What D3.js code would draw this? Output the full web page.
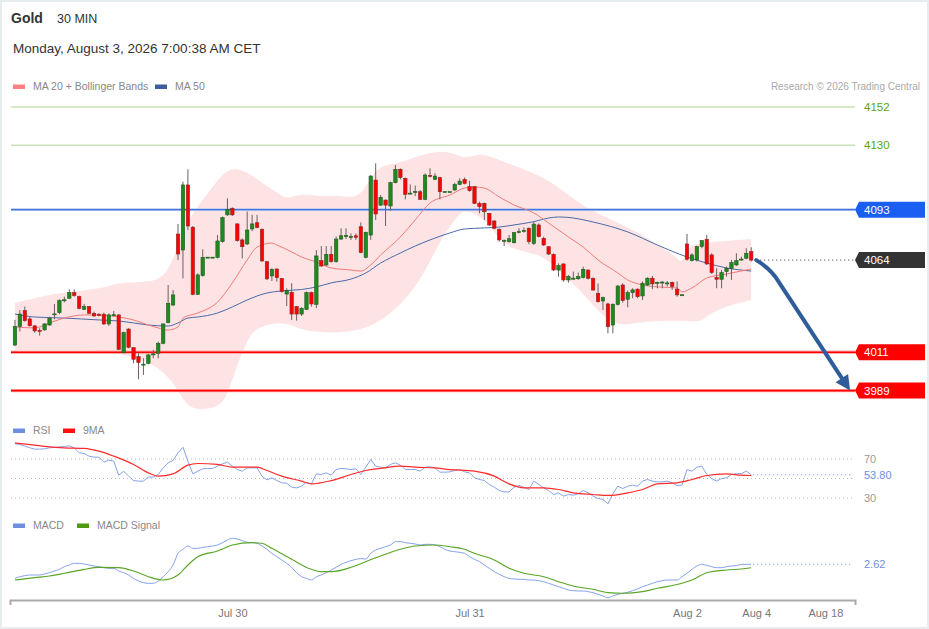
<!DOCTYPE html>
<html>
<head>
<meta charset="utf-8">
<script src="https://cdn.jsdelivr.net/npm/d3@7"></script>
<style>
  html, body { margin: 0; padding: 0; background: #fff; }
  svg { display: block; font-family: "Liberation Sans", Arial, sans-serif; }
</style>
</head>
<body>
<svg id="chart" width="929" height="629"></svg>
<script>
// 30 min candles, [open, high, low, close]
var ohlc = [
  [4015.2,4029.6,4014.6,4025.8],[4025.8,4035.3,4022.9,4033.0],[4035.0,4037.3,4028.6,4029.2],[4030.2,4031.5,4025.8,4026.3],
  [4026.2,4026.7,4022.3,4023.3],[4023.6,4024.8,4020.6,4023.2],[4023.9,4027.7,4023.5,4027.3],[4026.7,4031.5,4026.3,4030.6],
  [4032.9,4038.8,4030.0,4033.1],[4033.8,4041.5,4033.0,4040.7],[4041.0,4043.0,4039.7,4041.2],[4042.1,4047.2,4041.7,4045.3],
  [4045.3,4047.2,4043.0,4043.6],[4043.0,4043.6,4035.7,4036.3],[4035.7,4038.8,4035.3,4037.3],[4037.3,4037.6,4033.0,4033.4],
  [4033.4,4034.4,4031.5,4031.9],[4032.9,4033.4,4031.7,4032.1],[4032.9,4033.8,4026.7,4027.3],[4027.3,4033.4,4026.2,4032.5],
  [4032.4,4034.8,4031.5,4032.6],[4032.5,4032.9,4012.4,4012.7],[4010.8,4022.9,4010.4,4022.3],[4024.4,4024.8,4013.3,4013.9],
  [4013.7,4013.9,4004.7,4007.0],[4008.5,4010.4,3995.5,4005.1],[4004.0,4007.6,3998.0,4004.2],[4004.7,4010.1,4004.1,4009.5],
  [4009.8,4012.4,4007.6,4010.1],[4010.4,4017.1,4007.6,4016.2],[4016.2,4027.6,4015.6,4027.3],[4028.1,4049.7,4027.7,4039.2],
  [4038.2,4046.8,4037.6,4044.0],[4079.0,4084.8,4064.1,4067.5],[4069.8,4109.1,4053.5,4107.2],[4107.2,4116.2,4081.3,4083.6],
  [4082.9,4083.6,4043.8,4044.3],[4044.3,4056.4,4044.0,4055.5],[4055.1,4070.2,4054.5,4065.6],[4065.5,4065.7,4065.5,4065.7],
  [4065.5,4065.7,4065.5,4065.7],[4065.6,4078.4,4065.0,4075.0],[4074.6,4089.0,4074.0,4088.4],[4090.0,4099.5,4089.4,4093.2],
  [4093.8,4094.3,4089.4,4090.0],[4084.8,4085.2,4074.6,4075.2],[4075.6,4076.5,4065.0,4071.7],[4073.3,4091.9,4072.7,4081.3],
  [4081.9,4090.0,4080.7,4084.8],[4085.5,4090.0,4082.3,4082.7],[4081.7,4082.3,4063.1,4063.5],[4063.1,4063.3,4052.6,4053.2],
  [4054.9,4059.3,4052.0,4058.7],[4058.9,4059.3,4051.6,4053.9],[4053.5,4053.7,4045.3,4045.9],[4044.5,4047.8,4037.6,4046.5],
  [4045.5,4050.7,4029.6,4033.0],[4037.3,4037.6,4029.2,4033.0],[4033.0,4036.9,4031.9,4036.3],[4035.7,4045.9,4035.3,4045.3],
  [4045.3,4045.9,4037.3,4038.8],[4038.6,4069.8,4036.5,4066.4],[4063.7,4072.1,4060.2,4060.6],[4061.2,4072.1,4060.6,4067.3],
  [4067.3,4072.1,4062.5,4063.1],[4063.1,4077.5,4062.5,4076.1],[4076.1,4082.3,4075.6,4078.0],[4077.9,4082.3,4076.1,4078.1],
  [4077.4,4079.4,4075.6,4077.6],[4078.0,4079.4,4075.6,4077.1],[4083.2,4085.7,4067.9,4068.3],[4065.6,4080.3,4065.0,4080.0],
  [4078.4,4112.9,4075.6,4112.3],[4110.0,4119.6,4087.0,4090.5],[4095.6,4101.4,4095.1,4100.1],[4098.5,4098.9,4083.6,4095.6],
  [4095.1,4109.1,4092.4,4108.5],[4108.5,4118.7,4108.1,4116.2],[4116.2,4116.7,4110.4,4111.5],[4111.0,4111.4,4098.9,4101.8],
  [4102.3,4107.5,4101.8,4102.5],[4103.2,4106.8,4100.8,4103.4],[4103.3,4104.3,4098.5,4098.9],[4098.9,4113.9,4098.5,4112.9],
  [4112.7,4116.7,4111.5,4112.3],[4110.4,4113.9,4110.0,4112.3],[4111.4,4111.9,4098.9,4103.3],[4103.2,4103.4,4103.2,4103.4],
  [4103.2,4103.4,4103.2,4103.4],[4104.3,4108.5,4103.9,4107.5],[4107.5,4111.0,4107.1,4109.4],[4110.4,4111.5,4107.5,4108.1],
  [4106.2,4109.6,4103.3,4103.9],[4106.2,4106.6,4096.2,4096.6],[4096.6,4097.6,4090.9,4094.7],[4096.6,4097.0,4087.0,4091.8],
  [4090.9,4091.2,4083.6,4084.2],[4086.5,4087.0,4081.7,4082.3],[4081.7,4082.3,4074.6,4075.6],[4075.1,4075.9,4072.1,4075.3],
  [4074.6,4078.4,4074.0,4076.3],[4074.0,4080.1,4073.6,4079.8],[4080.2,4082.3,4079.4,4080.4],[4080.8,4082.8,4079.8,4081.0],
  [4082.3,4082.8,4073.2,4074.6],[4073.6,4086.1,4072.7,4084.7],[4084.2,4085.1,4077.1,4077.5],[4076.5,4077.5,4072.1,4072.7],
  [4071.7,4072.1,4066.9,4067.5],[4067.3,4067.9,4057.7,4058.3],[4058.3,4062.1,4054.5,4060.8],[4061.8,4062.1,4051.6,4052.6],
  [4052.6,4055.4,4051.0,4054.5],[4053.4,4057.4,4052.9,4053.6],[4053.3,4056.8,4052.6,4054.5],[4054.1,4060.2,4053.5,4058.7],
  [4058.3,4058.7,4052.9,4053.5],[4053.5,4054.1,4046.4,4046.8],[4044.9,4050.6,4039.5,4040.1],[4040.5,4043.0,4035.3,4042.4],
  [4038.8,4039.5,4021.9,4025.7],[4026.7,4039.2,4021.9,4038.6],[4038.5,4049.7,4038.0,4049.1],[4049.7,4050.7,4039.6,4040.7],
  [4041.5,4046.5,4036.9,4045.3],[4045.3,4047.8,4042.1,4046.9],[4047.3,4047.8,4042.1,4043.0],[4043.4,4051.7,4041.1,4050.7],
  [4049.7,4054.1,4049.2,4053.6],[4053.6,4054.9,4047.3,4050.3],[4051.0,4051.7,4047.8,4051.2],[4051.2,4052.0,4047.8,4051.4],
  [4050.5,4052.0,4048.8,4050.9],[4051.1,4051.7,4046.9,4048.8],[4047.3,4051.7,4043.0,4044.0],[4044.0,4044.1,4044.0,4044.1],
  [4073.3,4079.1,4063.7,4064.5],[4063.7,4067.9,4063.2,4067.0],[4064.1,4072.2,4063.2,4071.8],[4071.8,4075.6,4070.8,4075.2],
  [4076.0,4078.5,4061.2,4061.8],[4067.0,4067.9,4056.1,4056.8],[4054.1,4059.3,4047.8,4053.0],[4053.0,4058.4,4047.8,4056.8],
  [4057.4,4060.3,4054.5,4059.3],[4059.3,4064.1,4052.6,4062.6],[4061.2,4067.9,4060.7,4063.7],[4064.4,4066.0,4063.7,4064.6],
  [4065.1,4070.8,4064.5,4067.9],[4068.9,4071.4,4063.2,4064.0]
];

// Bollinger bands and moving averages, read at candle indices
var upperIdx = [0,4,9,15,19,21,28,31,33,35,38,41,43,45,48,50,53,55,58,62,66,70,73,77,83,88,91,94,98,105,109,115,120,126,130,134,135,136,138,149];
var upperVal = [4039.4,4042.2,4045.1,4046.8,4048.6,4051.4,4050.9,4056.6,4072.7,4087.1,4098.6,4110.0,4115.8,4116.9,4112.9,4108.3,4103.1,4098.6,4102.6,4100.3,4101.4,4098.6,4118.7,4118.7,4125.6,4127.3,4121.5,4126.1,4121.5,4114.1,4108.3,4094.5,4088.2,4080.2,4072.7,4065.8,4061.2,4071.5,4073.8,4076.1];
var lowerIdx = [0,9,17,21,28,31,33,35,38,41,43,45,47,48,52,55,58,62,71,78,83,86,90,91,95,98,101,105,108,112,115,118,122,126,134,139,140,144,149];
var lowerVal = [4012.3,4012.3,4012.3,4010.6,4004.9,3996.8,3989.4,3979.0,3977.9,3979.6,3985.3,4004.9,4016.4,4023.8,4027.9,4027.9,4023.8,4022.1,4022.7,4037.1,4056.6,4075.6,4091.1,4092.8,4088.8,4075.6,4069.8,4068.1,4064.1,4052.6,4045.1,4034.2,4025.6,4028.4,4029.6,4027.9,4032.5,4037.6,4041.1];
var ma20Idx = [0,4,7,10,14,17,21,24,27,29,31,33,34,37,41,44,47,49,52,53,56,58,61,64,68,70,72,74,78,81,84,88,91,93,95,98,101,105,108,112,115,118,122,124,127,130,134,135,137,140,144,149];
var ma20Val = [4025.6,4025.0,4027.9,4030.7,4032.5,4032.5,4031.3,4029.6,4026.7,4025.0,4023.8,4025.6,4030.7,4033.6,4039.9,4050.9,4064.1,4071.5,4073.8,4072.7,4068.7,4065.8,4062.9,4059.5,4058.3,4057.7,4061.2,4066.9,4077.3,4087.1,4096.8,4101.4,4105.4,4106.0,4105.4,4100.3,4095.7,4091.1,4085.3,4077.3,4071.5,4064.1,4056.6,4052.6,4049.7,4048.6,4048.0,4045.7,4048.0,4053.7,4056.0,4058.9];
var ma50Idx = [0,4,10,17,21,24,27,31,33,35,37,41,44,47,51,54,58,61,64,68,71,74,78,81,84,88,91,95,98,101,105,108,110,113,117,124,130,136,140,144,149];
var ma50Val = [4033.0,4031.3,4030.7,4029.6,4029.0,4027.9,4026.7,4026.1,4027.9,4030.7,4031.3,4033.6,4037.1,4041.1,4045.1,4046.3,4047.1,4048.6,4050.9,4053.1,4056.6,4062.3,4068.1,4072.1,4075.6,4079.6,4081.9,4082.5,4083.0,4084.2,4086.1,4088.2,4088.8,4088.2,4085.9,4080.2,4072.7,4065.8,4062.3,4059.5,4057.7];

// support / resistance levels
var levelVals = [4152, 4130, 4093, 4064, 4011, 3989];
var levelKinds = ["res", "res", "pivot", "last", "sup", "sup"];

// RSI per candle and its 9 period MA
var rsi = [85.6,84.9,83.2,81.5,80.1,80.1,80.4,81.5,81.8,82.5,82.8,83.5,81.5,76.3,75.6,72.9,71.9,71.9,66.8,68.8,
  67.8,53.4,57.5,52.4,47.9,47.3,47.3,51.4,51.4,54.1,60.9,66.1,68.5,76.3,82.1,67.8,54.8,57.5,59.9,60.3,
  60.3,62.7,65.0,66.8,62.7,59.2,57.5,60.9,60.9,60.9,52.4,48.6,50.7,47.9,45.6,45.2,41.1,40.4,42.1,46.2,
  44.5,54.8,54.1,55.8,53.4,59.2,60.3,59.9,59.2,59.9,54.1,61.6,69.5,62.7,61.6,60.9,64.4,66.1,63.7,59.2,
  59.2,59.2,57.5,61.6,62.0,60.9,56.5,56.5,56.8,58.2,59.2,56.8,
  55.8,50.7,49.0,47.9,43.8,41.1,37.7,36.3,36.3,41.1,42.8,41.1,38.7,47.3,43.8,40.4,37.7,33.6,35.3,31.9,
  33.6,32.9,34.3,37.7,35.3,31.9,29.5,28.5,24.0,34.3,42.1,39.7,42.1,43.2,42.1,47.3,49.0,47.3,46.6,46.6,
  47.3,45.6,42.8,43.2,59.2,57.5,61.6,62.7,54.1,50.0,47.3,50.0,50.7,54.1,54.8,55.1,57.5,53.8];
var rsiMaIdx = [0,4,7,10,14,17,20,24,27,29,32,35,37,41,44,49,51,54,58,60,64,68,71,74,78,81,85,88,93,97,100,103,107,110,113,117,120,124,127,130,134,137,140,144,147,149];
var rsiMaVal = [86.6,84.2,82.5,81.5,80.8,78.0,72.9,64.4,55.8,52.4,54.8,63.7,65.4,64.4,61.6,61.6,58.2,52.4,47.3,44.5,47.9,54.1,58.2,60.3,62.7,61.6,60.9,59.2,57.5,52.4,44.5,40.4,40.4,38.7,35.3,33.6,32.6,35.3,38.7,44.5,45.6,49.0,53.1,54.8,53.4,53.1];
var rsiGrid = [70, 50, 30];

// MACD per candle and signal line
var macd = [-2.86,-2.21,-1.82,-1.56,-1.56,-1.56,-1.17,-0.65,0,0.65,1.69,2.34,2.99,2.99,2.73,2.34,1.95,1.69,1.30,1.04,
  1.04,0,-0.65,-1.56,-2.86,-3.91,-4.56,-4.82,-4.82,-3.91,-2.21,-0.26,2.34,6.90,8.46,9.77,8.85,8.85,9.24,9.50,
  9.77,10.16,11.07,12.11,12.76,12.50,11.85,11.20,11.07,10.81,9.77,8.46,6.90,5.60,4.30,2.99,1.43,-0.65,-2.21,-2.86,
  -3.52,-2.21,-1.56,-0.65,0.39,1.43,2.60,3.39,4.04,4.56,4.82,4.69,6.90,8.20,8.85,9.50,10.16,11.46,11.46,11.07,
  10.81,10.55,10.16,10.42,10.42,10.16,9.50,8.46,7.81,7.55,7.29,6.90,
  5.60,4.56,3.65,2.34,1.04,-0.26,-1.30,-2.21,-2.86,-3.12,-3.26,-3.26,-3.52,-3.52,-3.78,-4.17,-4.82,-5.47,-6.12,-6.77,
  -7.42,-7.68,-7.81,-7.81,-8.07,-8.46,-9.11,-9.77,-10.42,-9.77,-9.11,-8.72,-8.33,-7.68,-7.03,-6.12,-5.47,-4.82,-4.17,-3.78,
  -3.52,-3.52,-3.52,-2.21,-0.91,0.65,1.95,2.60,2.21,1.69,1.30,1.30,1.69,1.95,2.08,2.60,2.60,2.62];
var sigIdx = [0,4,7,10,14,17,21,24,27,30,33,35,37,41,44,48,50,52,56,60,62,64,68,71,74,78,81,85,88,91,93,97,100,103,107,110,113,117,120,123,127,130,135,137,140,144,147,149];
var sigVal = [-3.52,-2.60,-1.95,-0.91,0.65,1.43,1.30,0,-2.21,-3.52,-1.56,2.34,5.60,7.81,10.16,11.07,10.81,8.85,4.56,0.65,-0.26,-0.26,1.43,3.65,5.86,8.46,9.77,10.16,9.50,8.46,6.90,4.30,1.04,-0.91,-2.21,-4.17,-5.86,-7.16,-8.46,-8.72,-8.07,-6.77,-4.82,-3.52,-0.65,0.39,0.78,1.30];

// x axis
var tickIdx = [44, 92, 136, 150, 164];
var tickLabels = ["Jul 30", "Jul 31", "Aug 2", "Aug 4", "Aug 18"];

// forecast arrow: from last candle down to the second support
var forecastTo = 169;

var svg = d3.select("#chart");
var x = d3.scaleLinear().domain([-1, 170]).range([10, 855]);
var y = d3.scaleLinear().domain([3989, 4152]).range([390.6, 107]);
var yRsi = d3.scaleLinear().domain([30, 70]).range([498, 459]);
var yMacd = d3.scaleLinear().domain([-10, 10]).range([596.6, 545.4]);
var right = 852;
var last = ohlc.length - 1;

function pairs(idx, vals) {
  return idx.map(function (d, i) { return [d, vals[i]]; });
}

svg.append("rect").attr("x", 1).attr("y", 1).attr("width", 927).attr("height", 627)
  .attr("fill", "#fff").attr("stroke", "#e7ecef").attr("stroke-width", 2);

// header
svg.append("text").attr("x", 11).attr("y", 23).attr("font-size", 14).attr("font-weight", "bold")
  .attr("fill", "#333").text("Gold");
svg.append("text").attr("x", 57).attr("y", 23).attr("font-size", 12.5).attr("fill", "#333").text("30 MIN");
svg.append("text").attr("x", 13).attr("y", 53).attr("font-size", 13.5).attr("fill", "#333")
  .text("Monday, August 3, 2026 7:00:38 AM CET");
svg.append("text").attr("x", 920).attr("y", 90).attr("font-size", 10).attr("fill", "#aaa")
  .attr("text-anchor", "end").text("Research \u00a9 2026 Trading Central");

function legend(items, ly) {
  items.forEach(function (it) {
    svg.append("rect").attr("x", it[0]).attr("y", ly - 5.5).attr("width", 12).attr("height", 4.5).attr("fill", it[1]);
    svg.append("text").attr("x", it[0] + 20).attr("y", ly).attr("font-size", 10.5).attr("fill", "#888").text(it[2]);
  });
}
legend([[13, "#ff8080", "MA 20 + Bollinger Bands"], [155, "#3b5e9e", "MA 50"]], 90);
legend([[13, "#6d8fe0", "RSI"], [63, "#ff1010", "9MA"]], 434);
legend([[13, "#6d8fe0", "MACD"], [77, "#4e9a10", "MACD Signal"]], 529);

// bollinger band fill
var smooth = d3.line().x(function (d) { return x(d[0]); }).y(function (d) { return y(d[1]); }).curve(d3.curveBasis);
var bandD = smooth(pairs(upperIdx, upperVal)) + smooth(pairs(lowerIdx, lowerVal).reverse()).replace(/^M/, "L") + "Z";
svg.append("path").attr("d", bandD).attr("fill", "#fde3e3");

// levels
var lv = svg.append("g");
levelVals.forEach(function (v, i) {
  var k = levelKinds[i], ly = y(v);
  if (k === "res") {
    lv.append("line").attr("x1", 11).attr("x2", 855).attr("y1", ly).attr("y2", ly)
      .attr("stroke", "#c9e3b6").attr("stroke-width", 1.5);
    lv.append("text").attr("x", 864).attr("y", ly + 4).attr("font-size", 11.5).attr("fill", "#5aa40a").text(v);
    return;
  }
  if (k === "pivot") {
    lv.append("line").attr("x1", 11).attr("x2", 855).attr("y1", ly).attr("y2", ly)
      .attr("stroke", "#b4c8f2").attr("stroke-width", 2.6);
    lv.append("line").attr("x1", 11).attr("x2", 855).attr("y1", ly).attr("y2", ly)
      .attr("stroke", "#4274dc").attr("stroke-width", 1.1);
  } else if (k === "sup") {
    lv.append("line").attr("x1", 11).attr("x2", 855).attr("y1", ly).attr("y2", ly)
      .attr("stroke", "#ffadad").attr("stroke-width", 3.4);
    lv.append("line").attr("x1", 11).attr("x2", 855).attr("y1", ly).attr("y2", ly)
      .attr("stroke", "#ff0000").attr("stroke-width", 1.6);
  }
  var col = k === "pivot" ? "#1b5ff2" : (k === "last" ? "#333" : "#ff0000");
  var by = k === "last" ? y(ohlc[last][3]) : ly;
  lv.append("path").attr("d", "M855," + by + "L859," + (by - 8) + "L925," + (by - 8) + "L925," + (by + 8) + "L859," + (by + 8) + "Z")
    .attr("fill", col);
  lv.append("text").attr("x", 864).attr("y", by + 4).attr("font-size", 11.5).attr("fill", "#fff").text(v);
});

// moving averages
var maLine = d3.line().x(function (d) { return x(d[0]); }).y(function (d) { return y(d[1]); }).curve(d3.curveMonotoneX);
svg.append("path").attr("d", maLine(pairs(ma50Idx, ma50Val))).attr("fill", "none")
  .attr("stroke", "#4a6aa8").attr("stroke-width", 1);
svg.append("path").attr("d", maLine(pairs(ma20Idx, ma20Val))).attr("fill", "none")
  .attr("stroke", "#f27a7a").attr("stroke-width", 1);

// candles
var cw = 3.4;
var cg = svg.append("g");
cg.selectAll("line").data(ohlc).enter().append("line")
  .attr("x1", function (d, i) { return x(i); }).attr("x2", function (d, i) { return x(i); })
  .attr("y1", function (d) { return y(d[1]); }).attr("y2", function (d) { return y(d[2]); })
  .attr("stroke", "#6e6060").attr("stroke-width", 1);
cg.selectAll("rect").data(ohlc).enter().append("rect")
  .attr("x", function (d, i) { return x(i) - cw / 2; })
  .attr("y", function (d) { return y(Math.max(d[0], d[3])); })
  .attr("width", cw)
  .attr("height", function (d) { return Math.max(1, Math.abs(y(d[0]) - y(d[3]))); })
  .attr("fill", function (d) { return d[3] >= d[0] ? "#1f8a1f" : "#ff0000"; })
  .attr("stroke", function (d) { return d[3] >= d[0] ? "#1d5a1d" : "#8a2a2a"; })
  .attr("stroke-width", 0.6);

// last price dotted line
var lastY = y(ohlc[last][3]);
svg.append("line").attr("x1", x(last) + 5).attr("x2", 855).attr("y1", lastY).attr("y2", lastY)
  .attr("stroke", "#333").attr("stroke-width", 1).attr("stroke-dasharray", "1,3");

// forecast arrow
var ax0 = x(last) + 5, ay0 = lastY;
var tipX = x(forecastTo), tipY = y(levelVals[5]);
var bx = ax0 + 22, by = ay0 + 21;
var ux = tipX - bx, uy = tipY - by, ul = Math.sqrt(ux * ux + uy * uy);
ux /= ul; uy /= ul;
var hx = tipX - ux * 15, hy = tipY - uy * 15;
var ap = d3.path();
ap.moveTo(ax0, ay0);
ap.quadraticCurveTo(ax0 + 15, ay0 + 9, bx, by);
ap.lineTo(hx, hy);
svg.append("path").attr("d", ap.toString()).attr("fill", "none").attr("stroke", "#2f5d9a")
  .attr("stroke-width", 4).attr("stroke-linecap", "round");
svg.append("path").attr("d", "M" + tipX + "," + tipY + "L" + (hx - uy * 7.5) + "," + (hy + ux * 7.5) +
  "L" + (hx + uy * 7.5) + "," + (hy - ux * 7.5) + "Z").attr("fill", "#2f5d9a");

// RSI panel
rsiGrid.forEach(function (v) {
  svg.append("line").attr("x1", 11).attr("x2", right).attr("y1", yRsi(v)).attr("y2", yRsi(v))
    .attr("stroke", "#bbb").attr("stroke-width", 1).attr("stroke-dasharray", "1,3");
});
var rsiLine = d3.line().x(function (d, i) { return x(i); }).y(function (d) { return yRsi(d); });
svg.append("path").attr("d", rsiLine(rsi)).attr("fill", "none").attr("stroke", "#86a2ea").attr("stroke-width", 1);
var rsiMaLine = d3.line().x(function (d) { return x(d[0]); }).y(function (d) { return yRsi(d[1]); }).curve(d3.curveMonotoneX);
svg.append("path").attr("d", rsiMaLine(pairs(rsiMaIdx, rsiMaVal))).attr("fill", "none")
  .attr("stroke", "#ff2a2a").attr("stroke-width", 1.2);
var rsiLast = rsi[rsi.length - 1];
svg.append("line").attr("x1", x(last) + 2).attr("x2", right).attr("y1", yRsi(rsiLast)).attr("y2", yRsi(rsiLast))
  .attr("stroke", "#6d8fe0").attr("stroke-width", 1).attr("stroke-dasharray", "1,3");
svg.append("text").attr("x", 864).attr("y", yRsi(70) + 4).attr("font-size", 11).attr("fill", "#999").text("70");
svg.append("text").attr("x", 864).attr("y", yRsi(30) + 4).attr("font-size", 11).attr("fill", "#999").text("30");
svg.append("text").attr("x", 864).attr("y", yRsi(rsiLast) + 4).attr("font-size", 11).attr("fill", "#6d8fe0")
  .text(d3.format(".2f")(rsiLast));

// MACD panel
var macdLine = d3.line().x(function (d, i) { return x(i); }).y(function (d) { return yMacd(d); }).curve(d3.curveMonotoneX);
svg.append("path").attr("d", macdLine(macd)).attr("fill", "none").attr("stroke", "#86a2ea").attr("stroke-width", 1);
var sigLine = d3.line().x(function (d) { return x(d[0]); }).y(function (d) { return yMacd(d[1]); }).curve(d3.curveMonotoneX);
svg.append("path").attr("d", sigLine(pairs(sigIdx, sigVal))).attr("fill", "none")
  .attr("stroke", "#5aa526").attr("stroke-width", 1.1);
var macdLast = macd[macd.length - 1];
svg.append("line").attr("x1", x(last) + 2).attr("x2", right).attr("y1", yMacd(macdLast)).attr("y2", yMacd(macdLast))
  .attr("stroke", "#6d8fe0").attr("stroke-width", 1).attr("stroke-dasharray", "1,3");
svg.append("text").attr("x", 864).attr("y", yMacd(macdLast) + 4).attr("font-size", 11).attr("fill", "#6d8fe0")
  .text(d3.format(".2f")(macdLast));

// time axis
var axis = d3.axisBottom(x).tickValues(tickIdx)
  .tickFormat(function (d, i) { return tickLabels[i]; })
  .tickSizeInner(0).tickSizeOuter(5).tickPadding(9);
var ag = svg.append("g").attr("transform", "translate(0,600)").call(axis);
ag.select(".domain").attr("stroke", "#aaa").attr("stroke-width", 2);
ag.selectAll("text").attr("font-size", 11).attr("fill", "#777").attr("font-family", "Liberation Sans, Arial, sans-serif");
</script>
</body>
</html>
